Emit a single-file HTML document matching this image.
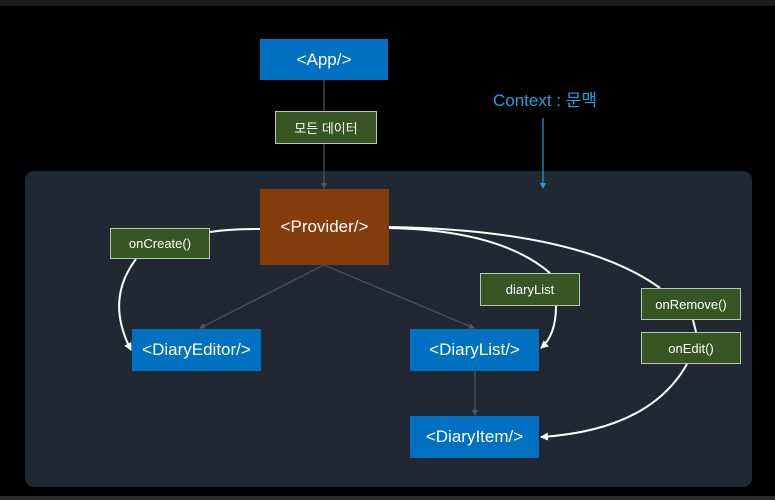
<!DOCTYPE html>
<html><head><meta charset="utf-8"><style>
html,body{margin:0;padding:0;background:#000;width:775px;height:500px;overflow:hidden;font-family:"Liberation Sans","Noto Sans CJK KR",sans-serif}
.b{position:absolute;color:#fff;display:flex;align-items:center;justify-content:center;box-sizing:border-box}
.blue{background:#0070c0;font-size:17px}
.g{background:#375623;border:1px solid #b8c8b0;font-size:13px}
</style></head><body>
<div style="position:absolute;left:0;top:0;width:775px;height:6px;background:#1c1c1c"></div>
<div style="position:absolute;left:0;top:496px;width:775px;height:4px;background:#2a2a2a"></div>
<div style="position:absolute;left:25px;top:171px;width:727px;height:316px;background:#222833;border-radius:9px"></div>
<svg style="position:absolute;left:0;top:0" width="775" height="500">
<defs>
<marker id="w" markerWidth="8" markerHeight="8" refX="7" refY="4" orient="auto" markerUnits="userSpaceOnUse"><path d="M0,0L8,4L0,8z" fill="#fff"/></marker>
<marker id="g" markerWidth="6" markerHeight="6" refX="5" refY="3" orient="auto" markerUnits="userSpaceOnUse"><path d="M0,0L6,3L0,6z" fill="#555"/></marker>
<marker id="c" markerWidth="6" markerHeight="6" refX="5" refY="3" orient="auto" markerUnits="userSpaceOnUse"><path d="M0,0L6,3L0,6z" fill="#1ea0e0"/></marker>
</defs>
<g stroke="#555" stroke-width="1.2" fill="none">
<line x1="324" y1="80" x2="324" y2="188" marker-end="url(#g)"/>
<line x1="324" y1="265" x2="200" y2="328" marker-end="url(#g)"/>
<line x1="324" y1="265" x2="474" y2="328" marker-end="url(#g)"/>
<line x1="475" y1="371" x2="475" y2="415" marker-end="url(#g)"/>
</g>
<line x1="543" y1="118" x2="543" y2="188" stroke="#1ea0e0" stroke-width="1.2" marker-end="url(#c)"/>
<g stroke="#fff" stroke-width="2" fill="none">
<path d="M260,229 Q230,229 210,232"/>
<path d="M136,259 Q105,300 131,350" marker-end="url(#w)"/>
<path d="M388,228 Q500,230 550,273"/>
<path d="M556,306 Q556,335 541,348" marker-end="url(#w)"/>
<path d="M388,227 Q580,230 660,288"/>
<path d="M693,320 L696,332"/>
<path d="M687,364 Q650,430 541,437" marker-end="url(#w)"/>
</g>
</svg>
<div class="b blue" style="left:260px;top:39px;width:128px;height:41px">&lt;App/&gt;</div>
<div class="b g" style="left:275px;top:111px;width:102px;height:33px">모든 데이터</div>
<div class="b" style="left:260px;top:189px;width:129px;height:76px;background:#843c0c;font-size:17px">&lt;Provider/&gt;</div>
<div class="b g" style="left:110px;top:228px;width:100px;height:31px">onCreate()</div>
<div class="b blue" style="left:132px;top:329px;width:129px;height:42px">&lt;DiaryEditor/&gt;</div>
<div class="b blue" style="left:410px;top:329px;width:129px;height:42px">&lt;DiaryList/&gt;</div>
<div class="b g" style="left:480px;top:273px;width:100px;height:33px">diaryList</div>
<div class="b g" style="left:641px;top:288px;width:100px;height:32px">onRemove()</div>
<div class="b g" style="left:641px;top:332px;width:100px;height:32px">onEdit()</div>
<div class="b blue" style="left:410px;top:416px;width:129px;height:42px">&lt;DiaryItem/&gt;</div>
<div class="b" style="left:460px;top:86px;width:170px;height:24px;color:#1ea0e0;font-size:17px">Context : 문맥</div>
</body></html>
